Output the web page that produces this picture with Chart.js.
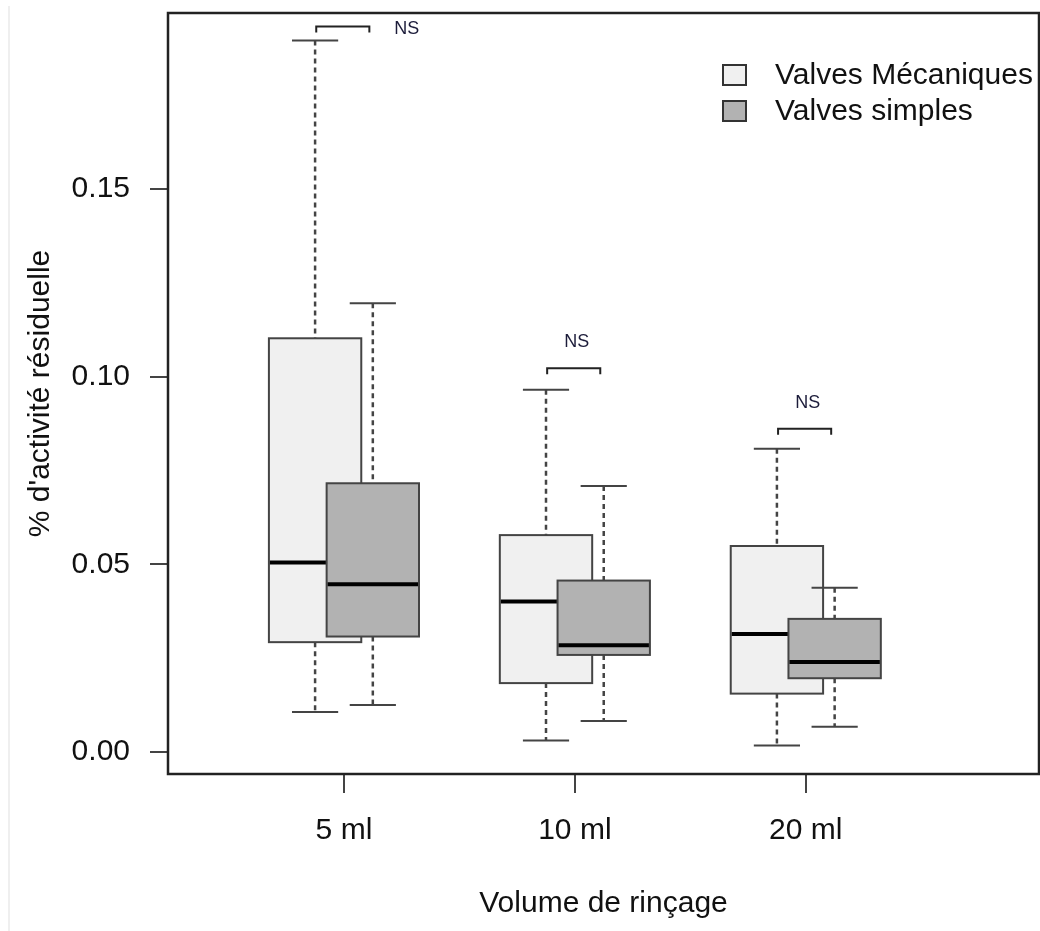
<!DOCTYPE html>
<html>
<head>
<meta charset="utf-8">
<script src="https://cdn.jsdelivr.net/npm/chart.js@4/dist/chart.umd.min.js"></script>
<style>
  body { margin: 0; background: #fff; }
  #wrap { position: relative; width: 1040px; height: 931px; }
  #edge { position: absolute; left: 8px; top: 6px; bottom: 0; width: 2px; background: #efefef; }
</style>
</head>
<body>
<div id="wrap">
  <div id="edge"></div>
  <canvas id="boxplot" width="1040" height="931"></canvas>
</div>
<script>
// groups on the x axis
const categories = ['5 ml', '10 ml', '20 ml'];
const categoryPos = [1, 2, 3];
const seriesNames = ['Valves Mécaniques', 'Valves simples'];

// Valves Mécaniques: whisker low, Q1, median, Q3, whisker high
const mecaMin = [0.0107, 0.0031, 0.0018];
const mecaQ1 = [0.0293, 0.0184, 0.0156];
const mecaMedian = [0.0505, 0.0401, 0.0315];
const mecaQ3 = [0.1102, 0.0578, 0.0549];
const mecaMax = [0.1895, 0.0965, 0.0808];

// Valves simples
const simpleMin = [0.0126, 0.0083, 0.0068];
const simpleQ1 = [0.0308, 0.0259, 0.0197];
const simpleMedian = [0.0447, 0.0285, 0.0240];
const simpleQ3 = [0.0716, 0.0457, 0.0355];
const simpleMax = [0.1195, 0.0709, 0.0438];

// "NS" comparison brackets
const nsLevels = [0.1932, 0.1022, 0.0861];
const nsLabels = ['NS', 'NS', 'NS'];

const yTicks = [0, 0.05, 0.10, 0.15];

const FONT = '"Liberation Sans", Arial, Helvetica, sans-serif';
const boxHalf = 0.2;
const capHalf = 0.1;

const series = [
  { name: seriesNames[0], fill: '#f0f0f0', offset: -0.125, min: mecaMin, q1: mecaQ1, med: mecaMedian, q3: mecaQ3, max: mecaMax },
  { name: seriesNames[1], fill: '#b2b2b2', offset: 0.125, min: simpleMin, q1: simpleQ1, med: simpleMedian, q3: simpleQ3, max: simpleMax }
];

function drawBox(ctx, x, y, s, i) {
  const xc = categoryPos[i] + s.offset;
  const cx = x.getPixelForValue(xc);
  const l = x.getPixelForValue(xc - boxHalf);
  const r = x.getPixelForValue(xc + boxHalf);
  const cl = x.getPixelForValue(xc - capHalf);
  const cr = x.getPixelForValue(xc + capHalf);
  const yMin = y.getPixelForValue(s.min[i]);
  const yQ1 = y.getPixelForValue(s.q1[i]);
  const yMed = y.getPixelForValue(s.med[i]);
  const yQ3 = y.getPixelForValue(s.q3[i]);
  const yMax = y.getPixelForValue(s.max[i]);

  // whiskers
  ctx.strokeStyle = '#444';
  ctx.lineWidth = 2.5;
  ctx.setLineDash([5, 4]);
  ctx.beginPath();
  ctx.moveTo(cx, yMax); ctx.lineTo(cx, yQ3);
  ctx.moveTo(cx, yQ1); ctx.lineTo(cx, yMin);
  ctx.stroke();
  ctx.setLineDash([]);

  // staples
  ctx.lineWidth = 2;
  ctx.beginPath();
  ctx.moveTo(cl, yMax); ctx.lineTo(cr, yMax);
  ctx.moveTo(cl, yMin); ctx.lineTo(cr, yMin);
  ctx.stroke();

  // box
  ctx.fillStyle = s.fill;
  ctx.fillRect(l, yQ3, r - l, yQ1 - yQ3);
  ctx.strokeStyle = '#444';
  ctx.lineWidth = 2;
  ctx.strokeRect(l, yQ3, r - l, yQ1 - yQ3);

  // median
  ctx.strokeStyle = '#000';
  ctx.lineWidth = 4;
  ctx.beginPath();
  ctx.moveTo(l + 1, yMed); ctx.lineTo(r - 1, yMed);
  ctx.stroke();
}

const boxPlotPlugin = {
  id: 'boxplot',
  afterDatasetsDraw(chart) {
    const { ctx, chartArea: a, scales: { x, y } } = chart;
    ctx.save();

    categories.forEach((c, i) => {
      series.forEach(s => drawBox(ctx, x, y, s, i));
    });

    // NS brackets
    ctx.strokeStyle = '#222';
    ctx.lineWidth = 2;
    ctx.fillStyle = '#1c1c3a';
    ctx.font = '18px ' + FONT;
    ctx.textBaseline = 'middle';
    nsLevels.forEach((v, i) => {
      const bl = x.getPixelForValue(categoryPos[i] - 0.12);
      const br = x.getPixelForValue(categoryPos[i] + 0.11);
      const by = y.getPixelForValue(v);
      ctx.beginPath();
      ctx.moveTo(bl, by + 6); ctx.lineTo(bl, by); ctx.lineTo(br, by); ctx.lineTo(br, by + 6);
      ctx.stroke();
      if (by - 27 < a.top + 8) {
        // no room above: label goes to the right
        ctx.textAlign = 'left';
        ctx.fillText(nsLabels[i], br + 25, by + 3);
      } else {
        ctx.textAlign = 'center';
        ctx.fillText(nsLabels[i], x.getPixelForValue(categoryPos[i]) + 2, by - 26);
      }
    });

    // legend (top right, inside plot)
    ctx.font = '30px ' + FONT;
    ctx.textAlign = 'left';
    ctx.textBaseline = 'middle';
    series.forEach((s, k) => {
      const top = a.top + 52 + k * 36;
      const left = a.right - 316;
      ctx.fillStyle = s.fill;
      ctx.fillRect(left, top, 23, 20);
      ctx.strokeStyle = '#333';
      ctx.lineWidth = 2;
      ctx.strokeRect(left, top, 23, 20);
      ctx.fillStyle = '#111';
      ctx.fillText(s.name, left + 52, top + 11);
    });

    // frame
    ctx.strokeStyle = '#222';
    ctx.lineWidth = 2.5;
    ctx.strokeRect(a.left, a.top, a.right - a.left, a.bottom - a.top);
    ctx.restore();
  }
};

const tickFont = { family: FONT, size: 30 };

new Chart(document.getElementById('boxplot').getContext('2d'), {
  type: 'scatter',
  data: { datasets: [] },
  options: {
    responsive: false,
    animation: false,
    layout: { padding: { top: 13, right: 1, left: 0, bottom: 0 } },
    plugins: { legend: { display: false }, tooltip: { enabled: false } },
    scales: {
      x: {
        type: 'linear',
        min: 0.238,
        max: 4.01,
        afterBuildTicks: s => { s.ticks = categoryPos.map(v => ({ value: v })); },
        afterFit: s => { s.height = 157; s.paddingLeft = 0; s.paddingRight = 0; },
        ticks: {
          callback: (v, i) => categories[i],
          font: tickFont,
          color: '#111',
          padding: 20,
          maxRotation: 0,
          autoSkip: false
        },
        grid: { drawOnChartArea: false, drawTicks: true, tickLength: 19, color: '#444', lineWidth: 2 },
        border: { display: false },
        title: { display: true, text: 'Volume de rinçage', font: tickFont, color: '#111', padding: { top: 0, bottom: 9 } }
      },
      y: {
        type: 'linear',
        min: -0.0058,
        max: 0.1968,
        afterBuildTicks: s => { s.ticks = yTicks.map(v => ({ value: v })); },
        afterFit: s => { s.width = 168; s.paddingTop = 0; s.paddingBottom = 0; },
        ticks: {
          callback: v => v.toFixed(2),
          font: tickFont,
          color: '#111',
          padding: 20
        },
        grid: { drawOnChartArea: false, drawTicks: true, tickLength: 18, color: '#444', lineWidth: 2 },
        border: { display: false },
        title: { display: true, text: "% d'activité résiduelle", font: tickFont, color: '#111', padding: { top: 23, bottom: 0 } }
      }
    }
  },
  plugins: [boxPlotPlugin]
});
</script>
</body>
</html>
